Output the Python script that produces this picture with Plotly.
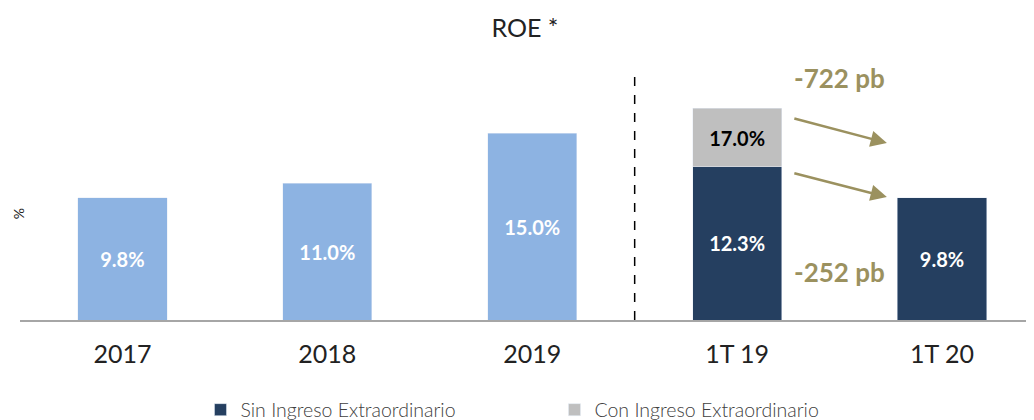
import plotly.graph_objects as go

categories = ["2017", "2018", "2019", "1T 19", "1T 20"]
hist_values = [9.8, 11.0, 15.0, None, None]
sin_values = [None, None, None, 12.3, 9.8]
con_extra = [None, None, None, 4.7, None]
hist_labels = ["9.8%", "11.0%", "15.0%", "", ""]
sin_labels = ["", "", "", "12.3%", "9.8%"]
con_labels = ["", "", "", "17.0%", ""]
delta_labels = ["-722 pb", "-252 pb"]

FONT = "Lato"
LIGHT = "#8DB3E2"
DARK = "#253F60"
GRAY = "#BFBFBF"
OLIVE = "#9B915F"

fig = go.Figure()
bw = 0.435
lbl = dict(size=20, family=FONT, weight="bold")
fig.add_trace(go.Bar(x=categories, y=hist_values, marker_color=LIGHT, width=bw,
                     text=hist_labels, textposition="inside", insidetextanchor="middle",
                     textfont=dict(color="white", **lbl),
                     showlegend=False, hoverinfo="skip"))
fig.add_trace(go.Bar(x=categories, y=sin_values, marker_color=DARK, width=bw,
                     name="Sin Ingreso Extraordinario",
                     text=sin_labels, textposition="inside", insidetextanchor="middle",
                     textfont=dict(color="white", **lbl)))
fig.add_trace(go.Bar(x=categories, y=con_extra, marker_color=GRAY, width=bw,
                     name="Con Ingreso Extraordinario",
                     text=con_labels, textposition="inside", insidetextanchor="middle",
                     textfont=dict(color="black", **lbl)))

fig.update_layout(
    barmode="stack",
    width=1034, height=420,
    margin=dict(l=12, r=8, t=52, b=108, autoexpand=False),
    paper_bgcolor="white", plot_bgcolor="white",
    font=dict(family=FONT, color="#333333"),
    title=dict(text="ROE *", x=0.5, xanchor="center", y=0.952, yanchor="middle",
               font=dict(size=25, color="#222222", family=FONT)),
    xaxis=dict(type="category", range=[-0.5, 4.449], showgrid=False,
               showline=True, linecolor="#A6A6A6", linewidth=2,
               tickfont=dict(size=25, color="#222222", family=FONT),
               ticks="", ticklabelstandoff=11),
    yaxis=dict(range=[0, 20.88], showgrid=False, showticklabels=False,
               zeroline=False, showline=False),
    legend=dict(orientation="h", x=0.178, xanchor="left", y=-0.346, yanchor="middle",
                font=dict(size=19.5, color="#404040", family=FONT, weight=300),
                entrywidth=309, entrywidthmode="pixels", traceorder="normal",
                itemwidth=30),
    bargap=0.5,
)

# dashed divider
fig.add_shape(type="line", xref="x", yref="paper", x0=2.5, x1=2.5, y0=0, y1=0.942,
              line=dict(color="black", width=1.5, dash="dash"))

# % axis label
fig.add_annotation(text="%", xref="paper", yref="paper", x=-0.002, xanchor="center",
                   y=0.41, showarrow=False, textangle=-90,
                   font=dict(size=14, color="#222222"))

# arrows
for (x0, y0, x1, y1) in [(3.272, 16.22, 3.731, 14.22), (3.272, 11.81, 3.731, 9.88)]:
    fig.add_annotation(x=x1, y=y1, ax=x0, ay=y0, xref="x", yref="y", axref="x", ayref="y",
                       text="", showarrow=True, arrowhead=2, arrowsize=1.3,
                       arrowwidth=2.5, arrowcolor=OLIVE)

fig.add_annotation(text=delta_labels[0], xref="x", yref="y", x=3.5, y=19.45, showarrow=False,
                   font=dict(size=26, color=OLIVE, family=FONT, weight="bold"))
fig.add_annotation(text=delta_labels[1], xref="x", yref="y", x=3.5, y=3.85, showarrow=False,
                   font=dict(size=26, color=OLIVE, family=FONT, weight="bold"))

fig.write_html("out.html")
